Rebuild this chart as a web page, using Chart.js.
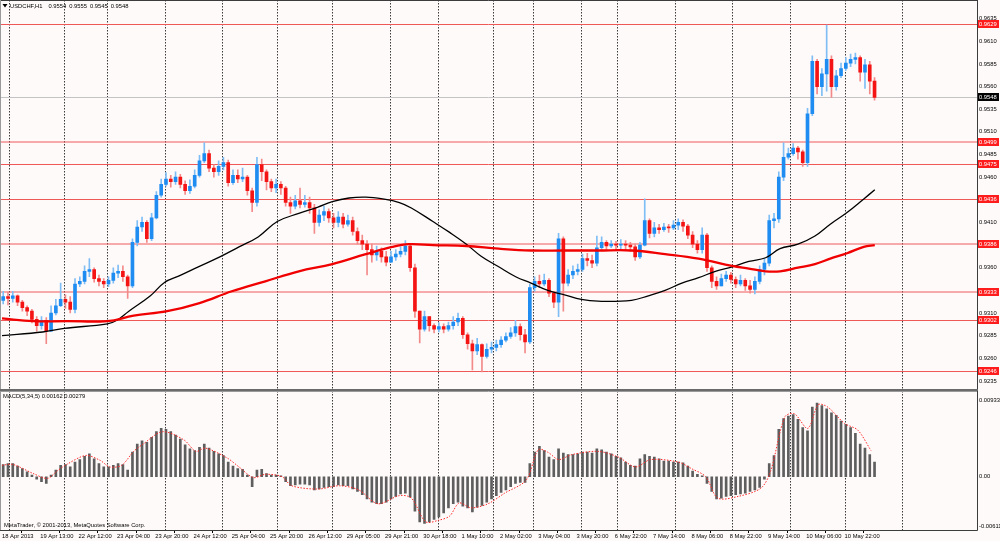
<!DOCTYPE html>
<html>
<head>
<meta charset="utf-8">
<script src="https://cdn.jsdelivr.net/npm/chart.js@4.4.1/dist/chart.umd.min.js"></script>
<style>
  html, body { margin: 0; padding: 0; background: #fffafa; }
  #wrap { position: relative; width: 1000px; height: 541px; overflow: hidden; }
  #priceChart { position: absolute; left: 0; top: 0; }
  #macdChart { position: absolute; left: 0; top: 391px; }
</style>
</head>
<body>
<div id="wrap">
  <canvas id="priceChart" width="1000" height="391"></canvas>
  <canvas id="macdChart" width="1000" height="150"></canvas>
</div>
<script>
// USDCHF H1, one candle per 2 hours
const firstOpen = 0.9324;
const closes = [
  .9328, .9326, .9329, .9322, .9316, .9312, .9303, .9296, .9302, .9290, .9310,
  .9318, .9325, .9322, .9314, .9342, .9345, .9356, .9358, .9348, .9345, .9342, .9346,
  .9354, .9356, .9350, .9340, .9388,
  .9405, .9410, .9392, .9415, .9440, .9452,
  .9458, .9455, .9460, .9452, .9445, .9450, .9462, .9478,
  .9486, .9470, .9466, .9472, .9476, .9454, .9462, .9458, .9460, .9445, .9432, .9474, .9466,
  .9455, .9448, .9452, .9448, .9432, .9428, .9434, .9430, .9432, .9426, .9410, .9418, .9422,
  .9415, .9410, .9416, .9408, .9412, .9400, .9390, .9386, .9380, .9374, .9378, .9372, .9366, .9372, .9375, .9378, .9384, .9360, .9312,
  .9292, .9306, .9296, .9292, .9295, .9292, .9296, .9300, .9304, .9286, .9276, .9268, .9275, .9262, .9270, .9272, .9275, .9280, .9284, .9288, .9295, .9286, .9278, .9338,
  .9345, .9342, .9346, .9332, .9322, .9392, .9343, .9352, .9356, .9358, .9370, .9368, .9365, .9382,
  .9388, .9384, .9386, .9385, .9386, .9385, .9383, .9372, .9385, .9412, .9398, .9404, .9402, .9405, .9404, .9407, .9410, .9406, .9396, .9386, .9380, .9396, .9360,
  .9345, .9340, .9348, .9352, .9347, .9342, .9346, .9340, .9336, .9345, .9358, .9365, .9412,
  .9414, .9460, .9482, .9486, .9492, .9488, .9476, .9530, .9588, .9560, .9574, .9590, .9560, .9572, .9580, .9586, .9590, .9592, .9576, .9584, .9566, .9548
];
const highs = [
  .9334, .9333, .9334, .9330, .9324, .9318, .9314, .9306, .9306, .9305, .9318,
  .9325, .9343, .9330, .9328, .9348, .9350, .9362, .9370, .9360, .9352, .9348, .9350,
  .9360, .9363, .9362, .9352, .9392,
  .9412, .9416, .9412, .9420, .9444, .9458,
  .9465, .9462, .9466, .9463, .9456, .9457, .9468, .9484,
  .9498, .9490, .9474, .9478, .9482, .9479, .9468, .9468, .9470, .9462, .9448, .9482, .9480,
  .9468, .9458, .9458, .9455, .9450, .9438, .9440, .9448, .9440, .9438, .9430, .9424, .9428,
  .9425, .9420, .9422, .9420, .9418, .9416, .9404, .9396, .9390, .9386, .9384, .9382, .9378, .9378, .9380, .9383, .9390, .9386, .9364,
  .9312, .9312, .9306, .9298, .9299, .9298, .9300, .9306, .9310, .9306, .9288, .9280, .9282, .9276, .9276, .9278, .9280, .9284, .9288, .9294, .9302, .9298, .9292, .9342,
  .9350, .9352, .9353, .9348, .9334, .9398, .9394, .9358, .9362, .9364, .9375, .9376, .9374, .9395,
  .9394, .9390, .9390, .9389, .9391, .9390, .9388, .9386, .9388, .9436, .9414, .9410, .9408, .9409, .9408, .9412, .9414, .9413, .9408, .9400, .9390, .9404, .9398,
  .9362, .9350, .9353, .9356, .9355, .9350, .9352, .9348, .9346, .9350, .9362, .9370, .9418,
  .9420, .9466, .9498, .9492, .9497, .9494, .9490, .9536, .9594, .9590, .9580, .9628, .9594, .9578, .9586, .9592, .9596, .9597, .9594, .9590, .9588, .9570
];
const lows = [
  .9320, .9319, .9322, .9318, .9312, .9307, .9299, .9290, .9292, .9276, .9290,
  .9308, .9317, .9315, .9310, .9310, .9339, .9342, .9350, .9344, .9340, .9338, .9339,
  .9343, .9349, .9345, .9326, .9338,
  .9384, .9400, .9388, .9390, .9414, .9438,
  .9450, .9449, .9452, .9448, .9441, .9442, .9448, .9460,
  .9476, .9466, .9460, .9462, .9468, .9450, .9452, .9454, .9455, .9440, .9422, .9428, .9456,
  .9446, .9444, .9443, .9441, .9428, .9420, .9425, .9426, .9427, .9420, .9398, .9406, .9412,
  .9410, .9404, .9405, .9404, .9406, .9396, .9386, .9380, .9352, .9366, .9368, .9366, .9362, .9366, .9368, .9372, .9374, .9356, .9305,
  .9277, .9290, .9290, .9288, .9289, .9288, .9290, .9292, .9296, .9282, .9270, .9247, .9264, .9245, .9260, .9266, .9268, .9272, .9278, .9282, .9284, .9280, .9266, .9276,
  .9334, .9338, .9340, .9328, .9316, .9306, .9312, .9340, .9348, .9352, .9356, .9362, .9360, .9362,
  .9380, .9380, .9382, .9380, .9381, .9380, .9378, .9368, .9370, .9384, .9393, .9394, .9398, .9400, .9399, .9402, .9402, .9400, .9392, .9382, .9376, .9376, .9356,
  .9338, .9336, .9340, .9345, .9343, .9338, .9340, .9335, .9332, .9331, .9342, .9352, .9362,
  .9404, .9410, .9456, .9480, .9484, .9480, .9472, .9472, .9528, .9552, .9550, .9555, .9548, .9556, .9570, .9578, .9582, .9585, .9566, .9558, .9552, .9545
];
const hoursPerBar = 2;

// MACD(5,34,5) histogram per candle and its signal line
const macdHist = [
  .0015, .0016, .0016, .0013, .0010, .0006, .0002, -.0003, -.0006, -.0008, .0002,
  .0008, .0014, .0015, .0012, .0018, .0021, .0025, .0028, .0022, .0016, .0012, .0012,
  .0014, .0016, .0015, .0008, .0030,
  .0040, .0044, .0042, .0048, .0055, .0059,
  .0058, .0055, .0051, .0046, .0039, .0034, .0032, .0036,
  .0040, .0035, .0031, .0028, .0026, .0018, .0013, .0010, .0009, .0002, -.0012, .0008, .0009,
  .0004, .0002, .0002, .0001, -.0006, -.0011, -.0010, -.0009, -.0009, -.0010, -.0016, -.0015, -.0013,
  -.0012, -.0012, -.0010, -.0011, -.0011, -.0015, -.0018, -.0022, -.0027, -.0031, -.0033, -.0033, -.0031, -.0027, -.0024, -.0021, -.0020, -.0025, -.0042,
  -.0055, -.0057, -.0055, -.0052, -.0049, -.0044, -.0038, -.0033, -.0031, -.0036, -.0038, -.0043, -.0037, -.0035, -.0031, -.0027, -.0023, -.0019, -.0016, -.0012, -.0008, -.0007, -.0007, .0016,
  .0030, .0037, .0032, .0024, .0021, .0034, .0029, .0027, .0027, .0028, .0030, .0030, .0029, .0034,
  .0033, .0030, .0028, .0025, .0023, .0018, .0014, .0013, .0022, .0027, .0025, .0024, .0022, .0019, .0019, .0018, .0018, .0017, .0013, .0007, .0003, .0001, -.0008,
  -.0018, -.0027, -.0026, -.0024, -.0023, -.0022, -.0021, -.0020, -.0018, -.0016, -.0013, -.0003, .0016,
  .0026, .0058, .0071, .0074, .0076, .0070, .0060, .0056, .0085, .0090, .0087, .0083, .0078, .0075, .0068, .0064, .0060, .0053, .0040, .0035, .0027, .0018
];
const signalHours = [0, 4.6, 13, 19, 23, 27, 35, 41, 45, 50, 55, 59, 67, 76, 81, 85, 94, 99, 105, 110, 117, 121, 132, 141, 149, 157, 166, 171, 177, 182.5, 187, 191, 196, 203, 210, 219, 224, 228, 232.5, 238, 249, 257.5, 264.6, 271, 282.5, 288, 294, 299, 307.5, 317, 321, 327, 331, 336.6, 341, 345, 352, 357.5, 363];
const signalLine = [.0014, .0015, .0004, -.0002, .0007, .0015, .0026, .0020, .0012, .0014, .0031, .0040, .0055, .0045, .0031, .0035, .0023, .0012, -.0001, .0003, .0000, -.0011, -.0015, -.0011, -.0016, -.0033, -.0023, -.0026, -.0055, -.0053, -.0048, -.0032, -.0038, -.0033, -.0020, -.0004, .0033, .0030, .0021, .0027, .0031, .0024, .0012, .0021, .0018, .0010, .0000, -.0026, -.0024, -.0014, .0006, .0073, .0077, .0059, .0088, .0085, .0065, .0057, .0032];

// moving averages (black = faster, red = slower)
const blackMaHours = [0, 17, 26, 44, 48, 53, 62, 68, 74, 82, 91, 99, 107, 115, 124, 132, 138, 145, 152, 159, 166, 171, 180, 187, 194, 200, 207.5, 214.6, 221, 228, 235, 242, 249, 263, 270, 277, 284, 291, 298, 305, 312, 319, 325, 332.5, 339.6, 346, 353, 360, 364.6];
const blackMa = [.9285, .9289, .9293, .9298, .9302, .9312, .9329, .9344, .9351, .9361, .9372, .9383, .9394, .9411, .9420, .9427, .9433, .9437, .9438, .9436, .9432, .9426, .9411, .9399, .9386, .9373, .9361, .9350, .9343, .9335, .9330, .9325, .9323, .9324, .9329, .9335, .9343, .9349, .9356, .9361, .9367, .9371, .9381, .9386, .9395, .9408, .9421, .9436, .9446];
const redMaHours = [0, 13, 27, 44, 55, 69, 82.5, 96, 110, 124, 138, 152, 163, 170, 180, 194, 207.5, 221, 235, 249, 263, 277, 291, 305, 312, 319, 325, 332.5, 339.6, 346, 353, 360, 364.6];
const redMa = [.9304, .9301, .9301, .9301, .9307, .9312, .9321, .9334, .9345, .9356, .9364, .9375, .9383, .9386, .9385, .9384, .9381, .9379, .9379, .9379, .9379, .9375, .9370, .9362, .9359, .9356, .9356, .9360, .9364, .9370, .9376, .9383, .9385];

const levels = [0.9629, 0.9499, 0.9475, 0.9436, 0.9386, 0.9333, 0.9302, 0.9246];
const boldLevels = [0.9499, 0.9386, 0.9333];
const lastPrice = 0.9548;
const titleParts = ['USDCHF,H1', '0.9554', '0.9555', '0.9545', '0.9548'];
const priceTicks = [0.9235, 0.9260, 0.9285, 0.9310, 0.9335, 0.9360, 0.9385, 0.9410, 0.9435, 0.9460, 0.9485, 0.9510, 0.9535, 0.9560, 0.9585, 0.9610, 0.9635];
const macdTicks = [0.00933, 0, -0.00611];
const macdTickText = ['0.00933', '0.00', '-0.00611'];
const timeLabels = ['18 Apr 2013', '19 Apr 13:00', '22 Apr 12:00', '23 Apr 04:00', '23 Apr 20:00', '24 Apr 12:00', '25 Apr 04:00', '25 Apr 20:00', '26 Apr 12:00', '29 Apr 05:00', '29 Apr 21:00', '30 Apr 18:00', '1 May 10:00', '2 May 02:00', '3 May 04:00', '3 May 20:00', '6 May 22:00', '7 May 14:00', '8 May 06:00', '8 May 22:00', '9 May 14:00', '10 May 06:00', '10 May 22:00'];
const hoursPerLabel = 16;
const gridHours = [3, 26, 44, 68, 92, 115, 138, 162, 182, 205, 222, 242, 257, 281, 305, 329, 352, 376];

const opens = closes.map((c, i) => i === 0 ? firstOpen : closes[i - 1]);
const barHour = i => hoursPerBar * i + 0.5;
const isUp = i => closes[i] >= opens[i];

const FONT = '"Liberation Sans", Arial, sans-serif';
const BG = '#fffafa';
const X_MIN = -0.835, X_MAX = 407.3;

Chart.defaults.font.family = FONT;
Chart.defaults.font.size = 5.8;
Chart.defaults.color = '#000';

const background = {
  id: 'background',
  beforeDraw(chart) {
    const c = chart.ctx;
    c.save();
    c.fillStyle = BG;
    c.fillRect(0, 0, chart.width, chart.height);
    c.restore();
  }
};

function drawGrid(chart, bottom) {
  const c = chart.ctx, xs = chart.scales.x;
  c.save();
  c.strokeStyle = '#3a3a3a';
  c.lineWidth = 1;
  c.setLineDash([1.5, 1.5]);
  gridHours.forEach(h => {
    const x = Math.round(xs.getPixelForValue(h)) + 0.5;
    c.beginPath();
    c.moveTo(x, 0);
    c.lineTo(x, bottom);
    c.stroke();
  });
  c.restore();
}

const pricePanel = {
  id: 'pricePanel',
  beforeDatasetsDraw(chart) {
    const c = chart.ctx, ys = chart.scales.y, a = chart.chartArea;
    drawGrid(chart, chart.height);
    c.save();
    c.lineWidth = 1;
    c.strokeStyle = '#c4c4c4';
    let y = Math.round(ys.getPixelForValue(lastPrice)) + 0.5;
    c.beginPath(); c.moveTo(a.left, y); c.lineTo(a.right, y); c.stroke();
    levels.forEach(v => {
      const p = ys.getPixelForValue(v);
      const bold = boldLevels.includes(v);
      const yy = bold ? Math.round(p) : Math.round(p) + 0.5;
      c.strokeStyle = '#f05858';
      c.beginPath(); c.moveTo(a.left, yy); c.lineTo(a.right, yy); c.stroke();
    });
    c.restore();
  },
  afterDraw(chart) {
    const c = chart.ctx, ys = chart.scales.y, a = chart.chartArea;
    c.save();
    c.font = '5.8px ' + FONT;
    c.textBaseline = 'middle';
    c.textAlign = 'left';
    const box = (v, fill) => {
      const y = Math.round(ys.getPixelForValue(v));
      c.fillStyle = fill;
      c.fillRect(a.right, y - 4, 22, 8);
      c.fillStyle = '#fff';
      c.fillText(v.toFixed(4), a.right + 2, y + 0.5);
    };
    levels.forEach(v => box(v, '#ff1c1c'));
    box(lastPrice, '#000');

    c.strokeStyle = '#3c3c3c';
    c.lineWidth = 1;
    c.beginPath();
    c.moveTo(0, 0.5); c.lineTo(a.right + 0.5, 0.5);
    c.moveTo(a.right + 0.5, 0); c.lineTo(a.right + 0.5, chart.height);
    c.stroke();
    c.strokeStyle = '#9a9a9a';
    c.beginPath(); c.moveTo(0.5, 0); c.lineTo(0.5, chart.height); c.stroke();
    // panel separator
    c.fillStyle = '#6a6a6a';
    c.fillRect(0, chart.height - 2, a.right + 1, 2);

    // title: symbol, period and last candle OHLC
    c.fillStyle = '#000';
    c.beginPath(); c.moveTo(2.5, 4); c.lineTo(7.5, 4); c.lineTo(5, 7.5); c.closePath(); c.fill();
    let tx = 10;
    titleParts.forEach((t, i) => {
      c.fillText(t, tx, 6.5);
      tx += c.measureText(t).width + (i === 0 ? 6 : 3);
    });
    c.restore();
  }
};

const macdPanel = {
  id: 'macdPanel',
  beforeDatasetsDraw(chart) {
    drawGrid(chart, chart.chartArea.bottom);
  },
  afterDraw(chart) {
    const c = chart.ctx, a = chart.chartArea;
    c.save();
    c.strokeStyle = '#3c3c3c';
    c.lineWidth = 1;
    c.beginPath();
    c.moveTo(a.right + 0.5, 0); c.lineTo(a.right + 0.5, a.bottom + 0.5);
    c.lineTo(0, a.bottom + 0.5);
    c.stroke();
    c.strokeStyle = '#9a9a9a';
    c.beginPath(); c.moveTo(0.5, 0); c.lineTo(0.5, a.bottom); c.stroke();
    c.beginPath(); c.moveTo(0, 0.5); c.lineTo(a.right, 0.5); c.stroke();
    c.fillStyle = '#000';
    c.font = '5.8px ' + FONT;
    c.textBaseline = 'middle';
    c.fillText('MACD(5,34,5) 0.00162 0.00279', 3, 5);
    c.fillText('MetaTrader, \u00a9 2001-2013, MetaQuotes Software Corp.', 4, a.bottom - 4.5);
    c.restore();
  }
};

new Chart(document.getElementById('priceChart'), {
  type: 'bar',
  data: {
    datasets: [
      {
        type: 'line',
        data: redMaHours.map((h, i) => ({ x: h, y: redMa[i] })),
        borderColor: '#f00000',
        borderWidth: 2.3,
        pointRadius: 0,
        tension: 0.4,
        order: 0
      },
      {
        type: 'line',
        data: blackMaHours.map((h, i) => ({ x: h, y: blackMa[i] })),
        borderColor: '#000',
        borderWidth: 1.3,
        pointRadius: 0,
        tension: 0.4,
        order: 1
      },
      {
        data: closes.map((c, i) => ({ x: barHour(i), y: [opens[i], c] })),
        backgroundColor: ctx => isUp(ctx.dataIndex) ? '#1e8cf0' : '#f41414',
        barThickness: 3,
        minBarLength: 1,
        grouped: false,
        order: 2
      },
      {
        data: closes.map((c, i) => ({ x: barHour(i), y: [lows[i], highs[i]] })),
        backgroundColor: ctx => isUp(ctx.dataIndex) ? '#7fbef5' : '#f38a8a',
        barThickness: 1,
        grouped: false,
        order: 3
      }
    ]
  },
  options: {
    responsive: false,
    animation: false,
    layout: { padding: { top: 2, bottom: 2, left: 0, right: 0 } },
    plugins: { legend: { display: false }, tooltip: { enabled: false } },
    scales: {
      x: { type: 'linear', min: X_MIN, max: X_MAX, offset: false, display: false },
      y: {
        position: 'right',
        min: 0.92299,
        max: 0.96496,
        afterFit: s => { s.width = 23; },
        afterBuildTicks: s => { s.ticks = priceTicks.map(v => ({ value: v })); },
        grid: { display: false, drawTicks: false },
        border: { display: false },
        ticks: { padding: 2, autoSkip: false, callback: v => v.toFixed(4) }
      }
    }
  },
  plugins: [background, pricePanel]
});

new Chart(document.getElementById('macdChart'), {
  type: 'bar',
  data: {
    datasets: [
      {
        type: 'line',
        data: signalHours.map((h, i) => ({ x: h, y: signalLine[i] })),
        borderColor: '#ff2a2a',
        borderWidth: 1,
        borderDash: [1.5, 1.5],
        pointRadius: 0,
        tension: 0.3,
        order: 0
      },
      {
        data: macdHist.map((v, i) => ({ x: barHour(i), y: v })),
        backgroundColor: '#5e5e5e',
        barThickness: 2,
        grouped: false,
        order: 1
      }
    ]
  },
  options: {
    responsive: false,
    animation: false,
    layout: { padding: { top: 1, bottom: 0, left: 0, right: 0 } },
    plugins: { legend: { display: false }, tooltip: { enabled: false } },
    scales: {
      x: {
        type: 'linear',
        min: X_MIN,
        max: X_MAX,
        offset: false,
        afterBuildTicks: s => { s.ticks = timeLabels.map((_, k) => ({ value: hoursPerLabel * k })); },
        afterFit: s => { s.height = 11; },
        grid: { drawOnChartArea: false, drawTicks: true, tickLength: 3, color: '#000' },
        border: { display: false },
        ticks: { autoSkip: false, maxRotation: 0, minRotation: 0, align: 'start', padding: 0, callback: (v, i) => timeLabels[i] }
      },
      y: {
        position: 'right',
        min: -0.0065,
        max: 0.0098,
        afterFit: s => { s.width = 23; },
        afterBuildTicks: s => { s.ticks = macdTicks.map(v => ({ value: v })); },
        grid: { display: false, drawTicks: false },
        border: { display: false },
        ticks: { padding: 2, autoSkip: false, callback: (v, i) => macdTickText[i] }
      }
    }
  },
  plugins: [background, macdPanel]
});
</script>
</body>
</html>
